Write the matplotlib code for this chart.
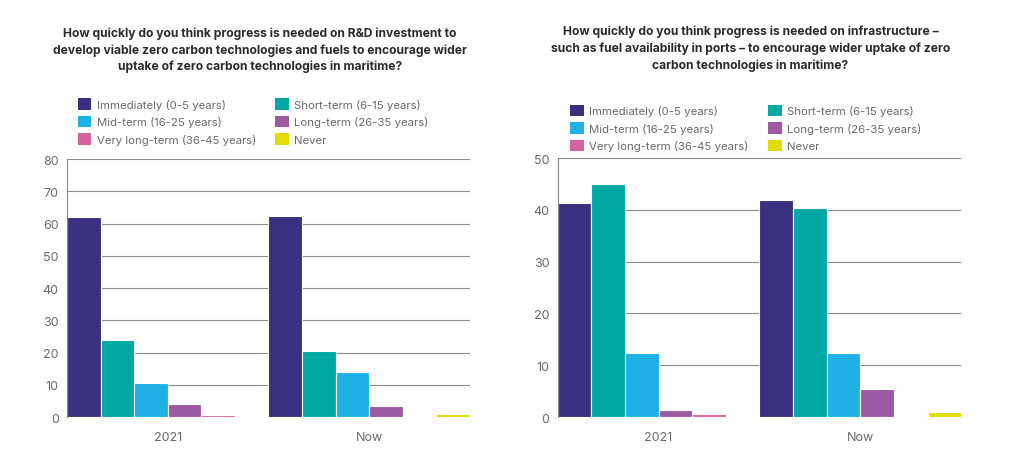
import numpy as np
import matplotlib.pyplot as plt
from matplotlib.patches import Patch

plt.rcParams['font.family'] = ['Inter', 'DejaVu Sans']

# Data
groups = ['2021', 'Now']
series = ['Immediately (0-5 years)', 'Short-term (6-15 years)',
          'Mid-term (16-25 years)', 'Long-term (26-35 years)',
          'Very long-term (36-45 years)', 'Never']
colors = ['#39307f', '#00a8a4', '#1fb1e5', '#9b5aa1', '#d762a0', '#e4dc00']

rd_2021 = [62.0, 23.8, 10.5, 3.9, 0.7, 0.2]
rd_now = [62.4, 20.6, 14.0, 3.3, 0.2, 1.0]
infra_2021 = [41.3, 44.9, 12.3, 1.4, 0.6, 0.15]
infra_now = [41.8, 40.3, 12.3, 5.35, 0.15, 1.0]

title_rd = ("How quickly do you think progress is needed on R&D investment to\n"
            "develop viable zero carbon technologies and fuels to encourage wider\n"
            "uptake of zero carbon technologies in maritime?")
title_infra = ("How quickly do you think progress is needed on infrastructure \u2013\n"
               "such as fuel availability in ports \u2013 to encourage wider uptake of zero\n"
               "carbon technologies in maritime?")

fig = plt.figure(figsize=(10.24, 4.56), dpi=100)

def panel(rect, vals, ymax, ystep, title, title_xy, legend_xy):
    ax = fig.add_axes(rect)
    n = len(series)
    w = 1.0 / n
    for g, gvals in enumerate(vals):
        for i, v in enumerate(gvals):
            ax.bar(g + i * w, v, width=w, align='edge', color=colors[i],
                   edgecolor='white', linewidth=0.8, zorder=2)
    ax.set_xlim(0, len(groups))
    ax.set_ylim(0, ymax)
    ax.set_yticks(np.arange(0, ymax + 1, ystep))
    ax.set_xticks([g + 0.5 for g in range(len(groups))])
    ax.set_xticklabels(groups)
    ax.yaxis.grid(True, color='#8a8a8a', linewidth=0.8, zorder=0)
    ax.set_axisbelow(True)
    for s in ['top', 'right', 'bottom']:
        ax.spines[s].set_visible(False)
    ax.spines['left'].set_color('#8a8a8a')
    ax.spines['left'].set_linewidth(0.8)
    ax.tick_params(axis='y', length=0, labelsize=9, labelcolor='#6a6a6a', pad=6)
    ax.tick_params(axis='x', length=0, labelsize=9, labelcolor='#6a6a6a', pad=10)
    fig.text(title_xy[0], title_xy[1], title, ha='center', va='top',
             fontsize=8.7, fontweight='bold', color='#2b2b2b', linespacing=1.45)
    handles = [Patch(facecolor=c, edgecolor='none') for c in colors]
    # order for 2 columns filled row-wise
    order = [0, 2, 4, 1, 3, 5]
    fig.legend([handles[k] for k in order], [series[k] for k in order],
               loc='upper left', bbox_to_anchor=legend_xy, ncol=2,
               frameon=False, fontsize=8.2, labelcolor='#6a6a6a',
               handlelength=1.2, handleheight=1.2, handletextpad=0.45,
               columnspacing=1.7, labelspacing=0.5, borderaxespad=0,
               borderpad=0)
    return ax

panel([0.0654, 0.0833, 0.3936, 0.5658], [rd_2021, rd_now], 80, 10,
      title_rd, (0.254, 0.94), (0.076, 0.782))
panel([0.5446, 0.0833, 0.3940, 0.5680], [infra_2021, infra_now], 50, 10,
      title_infra, (0.733, 0.943), (0.557, 0.768))

fig.savefig('out.png', dpi=100)
